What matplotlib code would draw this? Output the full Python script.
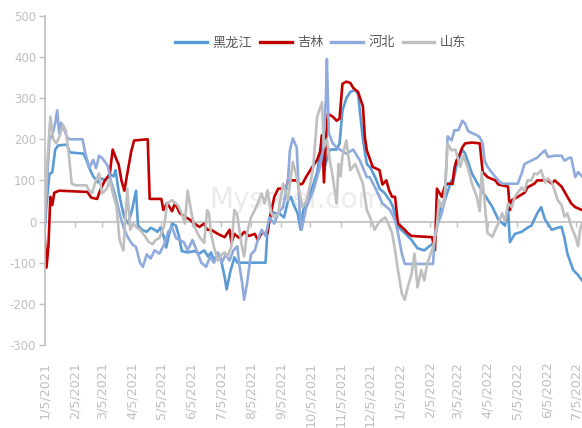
import matplotlib
matplotlib.use("Agg")
import matplotlib.pyplot as plt
import pandas as pd

plt.rcParams['font.family'] = ['Noto Sans CJK SC', 'DejaVu Sans']

# Price spread by province (yuan/ton), daily readings at turning points
hlj = [
    ('2021-01-05', -25), ('2021-01-07', 40), ('2021-01-10', 115), ('2021-01-13', 120), ('2021-01-16', 175),
    ('2021-01-19', 185), ('2021-01-28', 187), ('2021-01-31', 168), ('2021-02-14', 165), ('2021-02-17', 150),
    ('2021-02-20', 130), ('2021-02-24', 110), ('2021-03-01', 95), ('2021-03-04', 105), ('2021-03-09', 100),
    ('2021-03-13', 115), ('2021-03-17', 110), ('2021-03-19', 125), ('2021-03-22', 75), ('2021-03-25', 40),
    ('2021-03-28', 10), ('2021-04-01', -5), ('2021-04-05', 30), ('2021-04-09', 75), ('2021-04-11', -10),
    ('2021-04-15', -20), ('2021-04-20', -25), ('2021-04-24', -15), ('2021-04-28', -20), ('2021-05-01', -25),
    ('2021-05-04', -15), ('2021-05-08', -40), ('2021-05-10', -63), ('2021-05-13', -30), ('2021-05-16', -5),
    ('2021-05-20', -10), ('2021-05-23', -35), ('2021-05-26', -72), ('2021-06-01', -75), ('2021-06-08', -72),
    ('2021-06-13', -78), ('2021-06-18', -70), ('2021-06-22', -85), ('2021-06-25', -75), ('2021-06-28', -95),
    ('2021-07-01', -80), ('2021-07-05', -90), ('2021-07-09', -135), ('2021-07-11', -165), ('2021-07-15', -120),
    ('2021-07-19', -87), ('2021-07-22', -100), ('2021-07-25', -100), ('2021-08-20', -100), ('2021-08-22', -20),
    ('2021-08-26', 25), ('2021-08-30', 20), ('2021-09-03', 20), ('2021-09-08', 10), ('2021-09-12', 50),
    ('2021-09-15', 60), ('2021-09-18', 40), ('2021-09-22', 20), ('2021-09-25', -20), ('2021-09-28', 30),
    ('2021-10-03', 60), ('2021-10-08', 90), ('2021-10-12', 120), ('2021-10-15', 165), ('2021-10-18', 150),
    ('2021-10-20', 135), ('2021-10-25', 175), ('2021-11-01', 175), ('2021-11-04', 190), ('2021-11-07', 270),
    ('2021-11-11', 300), ('2021-11-15', 315), ('2021-11-20', 320), ('2021-11-23', 310), ('2021-11-28', 200),
    ('2021-12-02', 140), ('2021-12-06', 130), ('2021-12-12', 100), ('2021-12-15', 80), ('2021-12-20', 70),
    ('2021-12-26', 50), ('2021-12-29', 35), ('2022-01-03', -13), ('2022-01-10', -28), ('2022-01-17', -45),
    ('2022-01-23', -65), ('2022-01-30', -70), ('2022-02-07', -55), ('2022-02-10', -45), ('2022-02-12', -15),
    ('2022-02-15', 28), ('2022-02-20', 52), ('2022-02-27', 100), ('2022-02-28', 90), ('2022-03-04', 135),
    ('2022-03-10', 175), ('2022-03-13', 165), ('2022-03-20', 117), ('2022-03-25', 95), ('2022-04-02', 65),
    ('2022-04-10', 35), ('2022-04-16', 5), ('2022-04-23', -10), ('2022-04-26', 30), ('2022-04-28', -50),
    ('2022-05-03', -30), ('2022-05-10', -25), ('2022-05-16', -15), ('2022-05-20', -10), ('2022-05-26', 20),
    ('2022-05-30', 35), ('2022-06-03', 5), ('2022-06-10', -20), ('2022-06-16', -15), ('2022-06-20', -13),
    ('2022-06-23', -40), ('2022-06-26', -78), ('2022-07-02', -118), ('2022-07-07', -130), ('2022-07-11', -143),
]

jl = [
    ('2021-01-05', -30), ('2021-01-07', -112), ('2021-01-09', -60), ('2021-01-11', 60), ('2021-01-13', 40),
    ('2021-01-15', 70), ('2021-01-20', 75), ('2021-02-18', 72), ('2021-02-22', 58), ('2021-02-28', 55),
    ('2021-03-03', 75), ('2021-03-08', 100), ('2021-03-13', 115), ('2021-03-16', 175), ('2021-03-20', 150),
    ('2021-03-22', 140), ('2021-03-25', 100), ('2021-03-28', 75), ('2021-04-01', 130), ('2021-04-04', 170),
    ('2021-04-07', 197), ('2021-04-21', 200), ('2021-04-23', 55), ('2021-05-05', 55), ('2021-05-07', 28),
    ('2021-05-11', 45), ('2021-05-16', 25), ('2021-05-19', 45), ('2021-05-24', 20), ('2021-05-29', 12),
    ('2021-06-03', 5), ('2021-06-08', -5), ('2021-06-13', -13), ('2021-06-18', -5), ('2021-06-21', -20),
    ('2021-06-25', -20), ('2021-07-02', -30), ('2021-07-09', -38), ('2021-07-14', -20), ('2021-07-16', -52),
    ('2021-07-19', -30), ('2021-07-24', -40), ('2021-07-29', -25), ('2021-08-03', -35), ('2021-08-09', -30),
    ('2021-08-12', -45), ('2021-08-16', -28), ('2021-08-22', -28), ('2021-08-24', 3), ('2021-08-29', 60),
    ('2021-09-02', 80), ('2021-09-10', 80), ('2021-09-12', 100), ('2021-09-21', 100), ('2021-09-24', 90),
    ('2021-09-27', 92), ('2021-10-01', 110), ('2021-10-05', 125), ('2021-10-12', 150), ('2021-10-15', 170),
    ('2021-10-17', 210), ('2021-10-19', 95), ('2021-10-21', 200), ('2021-10-23', 262), ('2021-10-28', 255),
    ('2021-11-01', 245), ('2021-11-04', 250), ('2021-11-07', 335), ('2021-11-11', 340), ('2021-11-15', 337),
    ('2021-11-18', 325), ('2021-11-23', 315), ('2021-11-28', 280), ('2021-11-30', 205), ('2021-12-02', 173),
    ('2021-12-08', 133), ('2021-12-15', 125), ('2021-12-18', 90), ('2021-12-22', 100), ('2021-12-25', 75),
    ('2021-12-28', 60), ('2021-12-31', 60), ('2022-01-03', -5), ('2022-01-10', -20), ('2022-01-13', -28),
    ('2022-01-17', -35), ('2022-02-07', -38), ('2022-02-10', -70), ('2022-02-12', 80), ('2022-02-17', 60),
    ('2022-02-20', 85), ('2022-02-23', 92), ('2022-02-28', 92), ('2022-03-02', 130), ('2022-03-04', 148),
    ('2022-03-06', 155), ('2022-03-10', 180), ('2022-03-13', 190), ('2022-03-20', 192), ('2022-03-28', 190),
    ('2022-03-31', 120), ('2022-04-05', 108), ('2022-04-13', 100), ('2022-04-16', 90), ('2022-04-26', 85),
    ('2022-04-28', 28), ('2022-04-30', 52), ('2022-05-06', 60), ('2022-05-13', 70), ('2022-05-16', 83),
    ('2022-05-23', 92), ('2022-05-26', 100), ('2022-06-06', 100), ('2022-06-10', 92), ('2022-06-13', 100),
    ('2022-06-20', 85), ('2022-06-26', 60), ('2022-06-30', 44), ('2022-07-04', 35), ('2022-07-11', 28),
]

hb = [
    ('2021-01-05', 0), ('2021-01-07', 70), ('2021-01-10', 200), ('2021-01-13', 210), ('2021-01-16', 240),
    ('2021-01-18', 270), ('2021-01-20', 215), ('2021-01-22', 240), ('2021-01-25', 225), ('2021-01-28', 205),
    ('2021-01-31', 200), ('2021-02-13', 200), ('2021-02-16', 165), ('2021-02-20', 130), ('2021-02-24', 150),
    ('2021-02-27', 130), ('2021-03-02', 160), ('2021-03-05', 155), ('2021-03-08', 145), ('2021-03-11', 135),
    ('2021-03-14', 100), ('2021-03-18', 70), ('2021-03-21', 40), ('2021-03-24', 12), ('2021-03-28', -20),
    ('2021-04-01', -40), ('2021-04-05', -55), ('2021-04-09', -62), ('2021-04-13', -100), ('2021-04-16', -110),
    ('2021-04-20', -80), ('2021-04-24', -90), ('2021-04-28', -70), ('2021-05-03', -78), ('2021-05-08', -55),
    ('2021-05-12', -25), ('2021-05-16', -13), ('2021-05-20', -40), ('2021-05-24', -45), ('2021-05-28', -50),
    ('2021-06-01', -70), ('2021-06-06', -45), ('2021-06-11', -75), ('2021-06-15', -100), ('2021-06-20', -110),
    ('2021-06-24', -85), ('2021-06-28', -100), ('2021-07-02', -75), ('2021-07-06', -100), ('2021-07-10', -80),
    ('2021-07-14', -95), ('2021-07-18', -70), ('2021-07-22', -60), ('2021-07-24', -105), ('2021-07-27', -150),
    ('2021-07-29', -190), ('2021-08-01', -150), ('2021-08-05', -80), ('2021-08-09', -70), ('2021-08-12', -45),
    ('2021-08-16', -20), ('2021-08-20', -35), ('2021-08-24', 10), ('2021-08-29', -5), ('2021-09-02', 20),
    ('2021-09-07', 35), ('2021-09-12', 100), ('2021-09-14', 173), ('2021-09-17', 202), ('2021-09-21', 180),
    ('2021-09-24', 28), ('2021-09-26', -20), ('2021-10-01', 35), ('2021-10-08', 75), ('2021-10-15', 133),
    ('2021-10-18', 173), ('2021-10-21', 300), ('2021-10-22', 395), ('2021-10-24', 215), ('2021-10-28', 190),
    ('2021-11-01', 180), ('2021-11-11', 165), ('2021-11-18', 175), ('2021-11-25', 148), ('2021-12-02', 108),
    ('2021-12-05', 108), ('2021-12-12', 75), ('2021-12-18', 44), ('2021-12-26', 28), ('2021-12-31', 3),
    ('2022-01-03', -28), ('2022-01-07', -78), ('2022-01-10', -103), ('2022-02-08', -103), ('2022-02-10', -28),
    ('2022-02-13', -5), ('2022-02-17', 20), ('2022-02-20', 52), ('2022-02-23', 207), ('2022-02-27', 197),
    ('2022-03-02', 222), ('2022-03-06', 222), ('2022-03-10', 245), ('2022-03-13', 238), ('2022-03-16', 220),
    ('2022-03-20', 215), ('2022-03-25', 210), ('2022-03-28', 205), ('2022-03-31', 190), ('2022-04-02', 148),
    ('2022-04-05', 133), ('2022-04-10', 117), ('2022-04-16', 100), ('2022-04-20', 92), ('2022-05-06', 92),
    ('2022-05-10', 117), ('2022-05-13', 140), ('2022-05-20', 148), ('2022-05-26', 155), ('2022-05-30', 165),
    ('2022-06-03', 173), ('2022-06-06', 157), ('2022-06-13', 160), ('2022-06-20', 160), ('2022-06-23', 148),
    ('2022-06-28', 155), ('2022-06-30', 155), ('2022-07-04', 108), ('2022-07-07', 120), ('2022-07-11', 110),
]

sd = [
    ('2021-01-05', 0), ('2021-01-08', 150), ('2021-01-11', 255), ('2021-01-14', 200), ('2021-01-17', 190),
    ('2021-01-20', 205), ('2021-01-24', 235), ('2021-01-27', 220), ('2021-01-30', 160), ('2021-02-02', 92),
    ('2021-02-06', 88), ('2021-02-17', 88), ('2021-02-20', 75), ('2021-02-23', 70), ('2021-02-26', 95),
    ('2021-03-02', 117), ('2021-03-05', 68), ('2021-03-10', 80), ('2021-03-13', 100), ('2021-03-16', 70),
    ('2021-03-20', 35), ('2021-03-23', -45), ('2021-03-27', -70), ('2021-03-31', 80), ('2021-04-03', -20),
    ('2021-04-06', -5), ('2021-04-10', -15), ('2021-04-13', -20), ('2021-04-18', -35), ('2021-04-22', -50),
    ('2021-04-26', -55), ('2021-04-29', -45), ('2021-05-03', -40), ('2021-05-08', -10), ('2021-05-11', 44),
    ('2021-05-16', 52), ('2021-05-19', 45), ('2021-05-22', 40), ('2021-05-26', 20), ('2021-05-29', -5),
    ('2021-06-01', 75), ('2021-06-05', 20), ('2021-06-08', -13), ('2021-06-13', -37), ('2021-06-18', -52),
    ('2021-06-21', 28), ('2021-06-23', 20), ('2021-06-25', -30), ('2021-06-28', -62), ('2021-07-02', -95),
    ('2021-07-06', -80), ('2021-07-09', -75), ('2021-07-12', -85), ('2021-07-16', -60), ('2021-07-19', 28),
    ('2021-07-22', 15), ('2021-07-26', -52), ('2021-07-29', -85), ('2021-08-01', -28), ('2021-08-05', 10),
    ('2021-08-09', 28), ('2021-08-12', 44), ('2021-08-16', 68), ('2021-08-19', 44), ('2021-08-22', 75),
    ('2021-08-26', 20), ('2021-08-29', 10), ('2021-09-02', 20), ('2021-09-07', 92), ('2021-09-12', 52),
    ('2021-09-17', 145), ('2021-09-21', 108), ('2021-09-24', 68), ('2021-09-27', 35), ('2021-10-01', 50),
    ('2021-10-05', 92), ('2021-10-08', 133), ('2021-10-12', 255), ('2021-10-17', 290), ('2021-10-19', 180),
    ('2021-10-22', 200), ('2021-10-25', 148), ('2021-10-28', 108), ('2021-11-01', 44), ('2021-11-03', 140),
    ('2021-11-05', 110), ('2021-11-07', 160), ('2021-11-11', 197), ('2021-11-15', 125), ('2021-11-20', 140),
    ('2021-11-25', 110), ('2021-11-28', 92), ('2021-12-02', 28), ('2021-12-05', 12), ('2021-12-10', -20),
    ('2021-12-15', 0), ('2021-12-21', 10), ('2021-12-24', -5), ('2021-12-28', -28), ('2021-12-31', -70),
    ('2022-01-03', -118), ('2022-01-07', -175), ('2022-01-10', -190), ('2022-01-13', -160), ('2022-01-17', -127),
    ('2022-01-20', -78), ('2022-01-23', -160), ('2022-01-27', -118), ('2022-01-30', -143), ('2022-02-02', -103),
    ('2022-02-08', -62), ('2022-02-12', -13), ('2022-02-14', 52), ('2022-02-17', 35), ('2022-02-20', 60),
    ('2022-02-23', 190), ('2022-02-27', 173), ('2022-03-03', 175), ('2022-03-08', 133), ('2022-03-11', 160),
    ('2022-03-16', 130), ('2022-03-20', 92), ('2022-03-25', 60), ('2022-03-28', 25), ('2022-03-30', 120),
    ('2022-04-01', 75), ('2022-04-03', 20), ('2022-04-05', -28), ('2022-04-10', -37), ('2022-04-13', -20),
    ('2022-04-16', -5), ('2022-04-20', 20), ('2022-04-23', 0), ('2022-04-26', 44), ('2022-04-30', 35),
    ('2022-05-03', 60), ('2022-05-10', 83), ('2022-05-13', 75), ('2022-05-16', 100), ('2022-05-20', 100),
    ('2022-05-23', 117), ('2022-05-26', 115), ('2022-05-30', 125), ('2022-06-03', 95), ('2022-06-06', 105),
    ('2022-06-10', 95), ('2022-06-13', 75), ('2022-06-16', 52), ('2022-06-20', 40), ('2022-06-23', 12),
    ('2022-06-26', 20), ('2022-06-30', -13), ('2022-07-04', -35), ('2022-07-07', -60), ('2022-07-09', -20),
    ('2022-07-11', -5),
]

series_names = ['黑龙江', '吉林', '河北', '山东']
series_data = [hlj, jl, hb, sd]
series_colors = ['#5B9BD5', '#C00000', '#8FAADC', '#BFBFBF']

month_ticks = pd.date_range('2021-01-01', '2022-07-01', freq='MS') + pd.Timedelta(days=4)
tick_labels = [f'{d.month}/{d.day}/{d.year}' for d in month_ticks]
y_ticks = list(range(-300, 501, 100))

axis_grey = '#BFBFBF'
label_grey = '#BFBFBF'

fig = plt.figure(figsize=(5.82, 4.28), dpi=100)
ax = fig.add_axes([0.0765, 0.194, 0.9235, 0.769])

for name, data, color in zip(series_names, series_data, series_colors):
    dates = pd.to_datetime([d for d, _ in data])
    vals = [v for _, v in data]
    ax.plot(dates, vals, color=color, lw=1.9, label=name, solid_joinstyle='round')

ax.set_xlim(pd.Timestamp('2021-01-05'), pd.Timestamp('2022-07-11'))
ax.set_ylim(-300, 500)
ax.set_yticks(y_ticks)
ax.set_yticklabels([str(t) for t in y_ticks], color=label_grey, fontsize=8.5,
                   family=['DejaVu Sans'])
ax.tick_params(axis='y', length=4, width=1, color=axis_grey, pad=2)

ax.set_xticks(month_ticks)
ax.set_xticklabels(tick_labels, rotation=90, color=label_grey, fontsize=9.2,
                   family=['DejaVu Sans'])
ax.tick_params(axis='x', length=0, pad=12)

# zero line with month tick marks hanging below it
ax.axhline(0, color=axis_grey, lw=1.2, zorder=1)
ax.vlines(month_ticks, -13, 0, color=axis_grey, lw=1.0, zorder=1)

for side in ['top', 'right', 'bottom']:
    ax.spines[side].set_visible(False)
ax.spines['left'].set_color(axis_grey)
ax.spines['left'].set_linewidth(1.2)

ax.text(0.47, 0.44, 'Mysteel.com', transform=ax.transAxes, ha='center', va='center',
        fontsize=20, color='#EBEBEB', zorder=0, family=['DejaVu Sans'])

leg = ax.legend(loc='center', bbox_to_anchor=(0.514, 0.918), ncol=4, frameon=False,
                fontsize=9.5, handlelength=2.4, handletextpad=0.4, columnspacing=0.6,
                borderpad=0)
for t in leg.get_texts():
    t.set_color('#595959')
for h in leg.get_lines():
    h.set_linewidth(2.4)

fig.savefig('out.png', dpi=100)
